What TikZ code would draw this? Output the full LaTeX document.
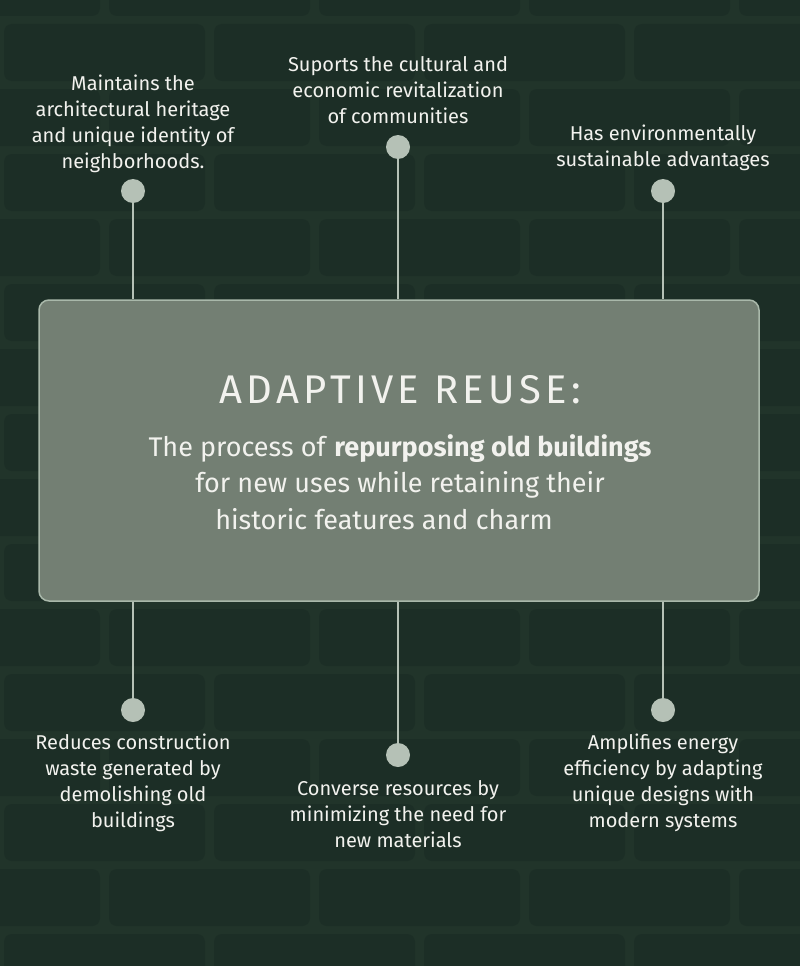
\documentclass[tikz,border=0pt]{standalone}
\usepackage{fontspec}
\setmainfont{Fira Sans}
\newfontfamily\titlefont[LetterSpace=11]{Fira Sans}
\definecolor{mortar}{HTML}{21342A}
\definecolor{brick}{HTML}{1C2E26}
\definecolor{boxfill}{HTML}{737F73}
\definecolor{boxline}{HTML}{A9B8AA}
\definecolor{dotc}{HTML}{B5C1B6}
\definecolor{txt}{HTML}{F2F2EE}
\tikzset{
  dotnode/.style={circle,fill=dotc,minimum size=24pt,inner sep=0pt},
  stem/.style={draw=dotc,line width=1.8pt},
  label/.style={text=txt,align=center,inner sep=0pt,font=\fontsize{20}{26}\selectfont},
  subline/.style={text=txt,inner sep=0pt,font=\fontsize{27}{34}\selectfont},
  brickshape/.style={fill=brick,rounded corners=8pt}
}
\begin{document}
\begin{tikzpicture}[x=1pt,y=-1pt]
\fill[mortar] (0,0) rectangle (800,966);
% brick wall background
\begin{scope}
\clip (0,0) rectangle (800,966);
\foreach \r in {-1,...,14}{
  \pgfmathsetmacro{\yy}{24+65*\r}
  \pgfmathsetmacro{\off}{mod(\r,2)==0 ? 0 : -105}
  \foreach \c in {0,...,4}{
    \pgfmathsetmacro{\xx}{\off+210*\c}
    \fill[brickshape] (\xx+4,\yy) rectangle (\xx+205,\yy+57);
  }
}
\end{scope}
\useasboundingbox (0,0) rectangle (800,966);
% central box
\node[draw=boxline,fill=boxfill,line width=1.5pt,rounded corners=10pt,minimum width=720pt,minimum height=301pt,inner sep=0pt] (box) at (399,450.5) {};
% dots
\node[dotnode] (d1) at (133,191) {};
\node[dotnode] (d2) at (398,147) {};
\node[dotnode] (d3) at (663,191) {};
\node[dotnode] (d4) at (133,710) {};
\node[dotnode] (d5) at (398,755) {};
\node[dotnode] (d6) at (663,710) {};
% stems
\draw[stem] (d1) -- (d1 |- box.north);
\draw[stem] (d2) -- (d2 |- box.north);
\draw[stem] (d3) -- (d3 |- box.north);
\draw[stem] (d4) -- (d4 |- box.south);
\draw[stem] (d5) -- (d5 |- box.south);
\draw[stem] (d6) -- (d6 |- box.south);
% labels
\node[label] (t1) at (133,124) {Maintains the\\architectural heritage\\and unique identity of\\neighborhoods.};
\node[label] (t2) at (398,90) {Suports the cultural and\\economic revitalization\\of communities};
\node[label] (t3) at (663,148) {Has environmentally\\sustainable advantages};
\node[label] (b1) at (133,783) {Reduces construction\\waste generated by\\demolishing old\\buildings};
\node[label] (b2) at (398,814) {Converse resources by\\minimizing the need for\\new materials};
\node[label] (b3) at (663,783) {Amplifies energy\\efficiency by adapting\\unique designs with\\modern systems};
% box text
\node[text=txt,inner sep=0pt,font=\titlefont\fontsize{40}{44}\selectfont] (title) at (400,390) {ADAPTIVE REUSE:};
\node[subline] (s1) at (400,449) {The process of \textbf{repurposing old buildings}};
\node[subline] (s2) at (400,485) {for new uses while retaining their};
\node[subline] (s3) at (384,519) {historic features and charm};
\end{tikzpicture}
\end{document}
